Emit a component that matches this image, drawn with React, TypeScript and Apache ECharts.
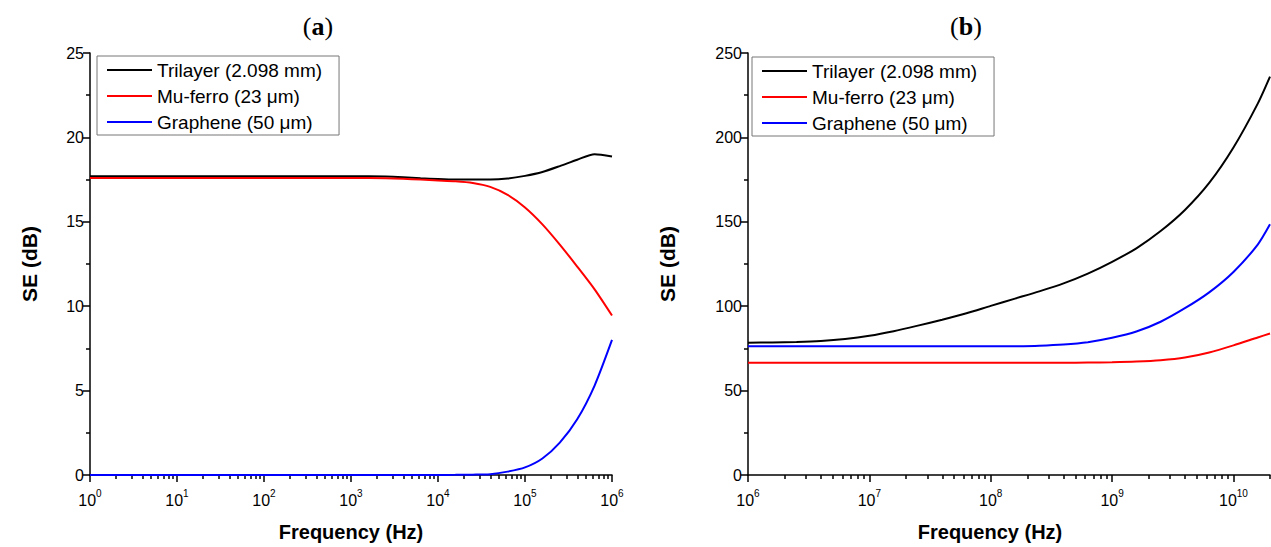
import React, { useEffect, useRef } from 'react';
import * as echarts from 'echarts';

// ---------- data ----------
const seriesNames = ['Trilayer (2.098 mm)', 'Mu-ferro (23 μm)', 'Graphene (50 μm)'];
const seriesColors = ['#000000', '#ff0000', '#0000ff'];

// Panel (a): 1 Hz – 1 MHz
const freqA = [1, 10, 100, 1000, 2512, 3981, 6310, 1e4, 15849, 25119, 39811, 63096, 1e5, 158489, 251189, 398107, 630957, 1e6];
const trilayerA = [17.7, 17.7, 17.7, 17.7, 17.68, 17.64, 17.58, 17.53, 17.5, 17.5, 17.5, 17.56, 17.72, 17.95, 18.3, 18.68, 19.0, 18.87];
const muferroA = [17.6, 17.6, 17.6, 17.6, 17.58, 17.55, 17.5, 17.45, 17.4, 17.3, 17.07, 16.6, 15.85, 14.85, 13.65, 12.35, 11.0, 9.45];
const grapheneA = [0, 0, 0, 0, 0, 0, 0, 0.005, 0.01, 0.02, 0.05, 0.2, 0.45, 0.98, 1.92, 3.3, 5.3, 8.0];

// Panel (b): 1 MHz – 20 GHz
const freqB = [1e6, 1.585e6, 2.512e6, 3.981e6, 6.31e6, 1e7, 1.585e7, 2.512e7, 3.981e7, 6.31e7, 1e8, 1.585e8, 2.512e8, 3.981e8, 6.31e8, 1e9, 1.585e9, 2.512e9, 3.981e9, 6.31e9, 1e10, 1.585e10, 2e10];
const trilayerB = [78.4, 78.5, 78.8, 79.4, 80.6, 82.5, 85.2, 88.5, 92, 95.8, 100.2, 104.5, 108.8, 113.5, 119.3, 126.3, 134.3, 144.5, 157, 173, 194, 220, 236];
const muferroB = [66.5, 66.5, 66.5, 66.5, 66.5, 66.5, 66.5, 66.5, 66.5, 66.5, 66.5, 66.5, 66.5, 66.5, 66.6, 66.8, 67.2, 68.0, 69.6, 72.6, 76.8, 81.5, 83.8];
const grapheneB = [76.2, 76.2, 76.2, 76.2, 76.2, 76.2, 76.2, 76.2, 76.2, 76.2, 76.2, 76.3, 76.6, 77.3, 78.7, 81.3, 85.0, 90.8, 98.8, 108.2, 120.3, 136.5, 148.5];

// axis ranges / ticks
const xDecadesA = [0, 1, 2, 3, 4, 5, 6];
const xDecadesB = [6, 7, 8, 9, 10];
const xMaxFreqB = 2e10;
const yTicksA = { min: 0, max: 25, interval: 5 };
const yTicksB = { min: 0, max: 250, interval: 50 };

const FONT = '"Liberation Sans", Arial, sans-serif';
const SERIF = '"Liberation Serif", "DejaVu Serif", serif';

function minorLogTicks(fromDec: number, toDec: number, maxLog: number) {
  const out: number[] = [];
  for (let d = fromDec; d <= toDec; d++) {
    for (let k = 2; k <= 9; k++) {
      const v = Math.log10(k) + d;
      if (v <= maxLog + 1e-9) out.push(v);
    }
  }
  return out;
}

const toPairs = (f: number[], v: number[]) => f.map((x, i) => [Math.log10(x), v[i]]);

export default function App() {
  const ref = useRef<HTMLDivElement>(null);

  useEffect(() => {
    if (!ref.current) return;
    const chart = echarts.init(ref.current, null, { renderer: 'svg' });
    const axisColor = '#000';
    const lineStyle = { color: axisColor, width: 1.5 };
    const labelRich = {
      b: { fontSize: 16, fontFamily: FONT, color: '#000', lineHeight: 20, verticalAlign: 'bottom' },
      s: { fontSize: 10, fontFamily: FONT, color: '#000', lineHeight: 10, verticalAlign: 'top' },
    };
    const maxLogA = 6;
    const maxLogB = Math.log10(xMaxFreqB);

    const majorX = (gridIndex: number, min: number, max: number, decades: number[], padRight: number) => ({
      type: 'value',
      gridIndex,
      min,
      max,
      position: 'bottom',
      name: 'Frequency (Hz)',
      nameLocation: 'middle',
      nameGap: 47,
      nameTextStyle: { fontFamily: FONT, fontWeight: 'bold', fontSize: 20, color: '#000', padding: [0, padRight, 0, 0] },
      axisLine: { show: true, onZero: false, lineStyle },
      axisTick: { show: true, length: 7, lineStyle, customValues: decades },
      axisLabel: {
        show: true,
        margin: 13,
        customValues: decades,
        formatter: (v: number) => `{b|10}{s|${Math.round(v)}}`,
        rich: labelRich,
      },
      splitLine: { show: false },
    });
    const minorX = (gridIndex: number, min: number, max: number, ticks: number[]) => ({
      type: 'value',
      gridIndex,
      min,
      max,
      position: 'bottom',
      axisLine: { show: false, onZero: false },
      axisTick: { show: true, length: 4, lineStyle, customValues: ticks },
      axisLabel: { show: false },
      splitLine: { show: false },
    });
    const yAx = (gridIndex: number, t: { min: number; max: number; interval: number }, nameGap: number) => ({
      type: 'value',
      gridIndex,
      min: t.min,
      max: t.max,
      interval: t.interval,
      name: 'SE (dB)',
      nameLocation: 'middle',
      nameGap,
      nameTextStyle: { fontFamily: FONT, fontWeight: 'bold', fontSize: 21, color: '#000' },
      axisLine: { show: true, lineStyle },
      axisTick: { show: true, length: 7, lineStyle },
      minorTick: { show: true, splitNumber: 2, length: 4, lineStyle },
      axisLabel: { fontFamily: FONT, fontSize: 16, color: '#000', margin: 6 },
      splitLine: { show: false },
      minorSplitLine: { show: false },
    });

    const legend = (left: number, top: number) => ({
      orient: 'vertical',
      left,
      top,
      data: seriesNames.map((n) => ({ name: n, icon: 'rect' })),
      itemWidth: 45,
      itemHeight: 2,
      itemGap: 6,
      padding: [4, 17, 3, 10],
      borderColor: '#777',
      borderWidth: 1,
      selectedMode: false,
      textStyle: { fontFamily: FONT, fontSize: 19, color: '#000', lineHeight: 20 },
    });

    const mk = (name: string, color: string, data: number[][], xAxisIndex: number, yAxisIndex: number) => ({
      type: 'line',
      name,
      xAxisIndex,
      yAxisIndex,
      data,
      symbol: 'none',
      showSymbol: false,
      smooth: 0.25,
      lineStyle: { color, width: 2 },
      itemStyle: { color },
    });

    const series: any[] = [
      mk(seriesNames[0], seriesColors[0], toPairs(freqA, trilayerA), 0, 0),
      mk(seriesNames[1], seriesColors[1], toPairs(freqA, muferroA), 0, 0),
      mk(seriesNames[2], seriesColors[2], toPairs(freqA, grapheneA), 0, 0),
      mk(seriesNames[0], seriesColors[0], toPairs(freqB, trilayerB), 2, 1),
      mk(seriesNames[1], seriesColors[1], toPairs(freqB, muferroB), 2, 1),
      mk(seriesNames[2], seriesColors[2], toPairs(freqB, grapheneB), 2, 1),
    ];

    const titleStyle = (label: string, x: number) => ({
      type: 'text',
      x,
      y: 26,
      style: {
        text: `{p|(}{t|${label}}{p|)}`,
        align: 'center',
        verticalAlign: 'middle',
        rich: {
          p: { fontFamily: SERIF, fontSize: 26, fontWeight: 'normal', fill: '#000' },
          t: { fontFamily: SERIF, fontSize: 26, fontWeight: 'bold', fill: '#000' },
        },
      },
    });

    chart.setOption({
      animation: false,
      backgroundColor: '#fff',
      grid: [
        { left: 90, top: 53, width: 522, height: 424 },
        { left: 748, top: 53, width: 522, height: 424 },
      ],
      xAxis: [
        majorX(0, 0, maxLogA, xDecadesA, 0),
        minorX(0, 0, maxLogA, minorLogTicks(0, 5, maxLogA)),
        majorX(1, 6, maxLogB, xDecadesB, 38),
        minorX(1, 6, maxLogB, minorLogTicks(6, 10, maxLogB)),
      ],
      yAxis: [yAx(0, yTicksA, 50), yAx(1, yTicksB, 70)],
      legend: [legend(97, 56), legend(752, 57)],
      series,
      graphic: [titleStyle('a', 318), titleStyle('b', 966)],
    });
    return () => chart.dispose();
  }, []);

  return (
    <div
      ref={ref}
      style={{ position: 'absolute', left: 0, top: 0, width: 1271, height: 547, background: '#fff' }}
    />
  );
}
